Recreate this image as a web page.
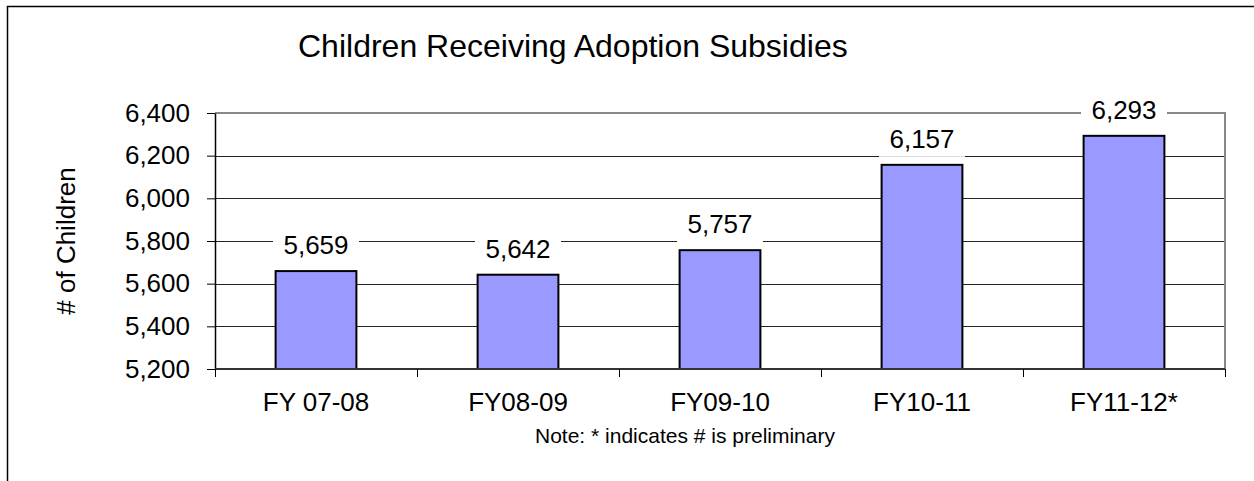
<!DOCTYPE html>
<html>
<head>
<meta charset="utf-8">
<script src="https://cdn.jsdelivr.net/npm/d3@7"></script>
<style>
  body { margin: 0; background: #fff; }
  text { font-family: 'Liberation Sans', Arial, sans-serif; fill: #000; }
</style>
</head>
<body>
<div id="chart"></div>
<script>
let years = ['FY 07-08', 'FY08-09', 'FY09-10', 'FY10-11', 'FY11-12*']
let children = [5659, 5642, 5757, 6157, 6293]
let yTicks = [5200, 5400, 5600, 5800, 6000, 6200, 6400]

let margin = { top: 113, left: 215, right: 29, bottom: 112 }
let width = 1254 - margin.left - margin.right
let height = 481 - margin.top - margin.bottom

let svg = d3
  .select('#chart')
  .append('svg')
  .attr('width', 1254)
  .attr('height', 481)

// outer chart border (runs off the right and bottom)
svg
  .append('rect')
  .attr('x', 7.5)
  .attr('y', 6.5)
  .attr('width', 1300)
  .attr('height', 500)
  .attr('fill', 'none')
  .attr('stroke', '#000')
  .attr('stroke-width', 1.5)

svg
  .append('text')
  .attr('x', 298)
  .attr('y', 57)
  .attr('font-size', 32)
  .text('Children Receiving Adoption Subsidies')

let g = svg
  .append('g')
  .attr('transform', `translate(${margin.left}, ${margin.top})`)

let x = d3
  .scaleBand()
  .domain(years)
  .range([0, width])
  .paddingInner(0.6)
  .paddingOuter(0.3)

let y = d3
  .scaleLinear()
  .domain([5200, 6400])
  .range([height, 0])

// gridlines
g.append('g')
  .selectAll('line')
  .data(yTicks.slice(1, -1))
  .enter()
  .append('line')
  .attr('x1', 0)
  .attr('x2', width)
  .attr('y1', d => Math.round(y(d)) + 0.5)
  .attr('y2', d => Math.round(y(d)) + 0.5)
  .attr('stroke', '#222')
  .attr('stroke-width', 1)

// plot border top & right (gray)
g.append('path')
  .attr('d', `M0,${y(6400)} H${width} V${height}`)
  .attr('fill', 'none')
  .attr('stroke', '#888')
  .attr('stroke-width', 2)

// bars
g.append('g')
  .selectAll('rect')
  .data(children)
  .enter()
  .append('rect')
  .attr('x', (d, i) => x(years[i]))
  .attr('y', d => y(d))
  .attr('width', x.bandwidth())
  .attr('height', d => height - y(d))
  .attr('fill', '#9999ff')
  .attr('stroke', '#000')
  .attr('stroke-width', 2)

// y axis
let yAxis = g
  .append('g')
  .call(
    d3
      .axisLeft(y)
      .tickValues(yTicks)
      .tickSize(8)
      .tickSizeOuter(0)
      .tickPadding(17)
      .tickFormat(d3.format(','))
  )
yAxis.select('.domain').attr('stroke', '#000').attr('stroke-width', 1.5)
yAxis.selectAll('.tick line').attr('stroke', '#000')
yAxis
  .selectAll('text')
  .attr('font-size', 26)
  .attr('font-family', "'Liberation Sans', Arial, sans-serif")

// x axis with ticks between categories
let xAxis = g.append('g').attr('transform', `translate(0, ${height})`)
xAxis
  .append('line')
  .attr('x1', 0)
  .attr('x2', width)
  .attr('stroke', '#333')
  .attr('stroke-width', 2)
xAxis
  .selectAll('.xtick')
  .data(d3.range(years.length + 1))
  .enter()
  .append('line')
  .attr('x1', i => Math.round(i * x.step()) + 0.5)
  .attr('x2', i => Math.round(i * x.step()) + 0.5)
  .attr('y1', 0)
  .attr('y2', 8)
  .attr('stroke', '#000')
xAxis
  .selectAll('.xlabel')
  .data(years)
  .enter()
  .append('text')
  .attr('x', d => x(d) + x.bandwidth() / 2)
  .attr('y', 42)
  .attr('text-anchor', 'middle')
  .attr('font-size', 26)
  .text(d => d)

// data labels on white boxes
let labels = g
  .append('g')
  .selectAll('g')
  .data(children)
  .enter()
  .append('g')
  .attr('transform', (d, i) => `translate(${x(years[i]) + x.bandwidth() / 2}, ${y(d) - 17})`)

labels
  .append('rect')
  .attr('x', -43)
  .attr('y', -23)
  .attr('width', 86)
  .attr('height', 32)
  .attr('fill', '#fff')

labels
  .append('text')
  .attr('text-anchor', 'middle')
  .attr('font-size', 26)
  .text(d => d3.format(',')(d))

// axis title
svg
  .append('text')
  .attr('transform', `translate(75, ${margin.top + height / 2}) rotate(-90)`)
  .attr('text-anchor', 'middle')
  .attr('font-size', 26)
  .text('# of Children')

svg
  .append('text')
  .attr('x', 685)
  .attr('y', 443)
  .attr('text-anchor', 'middle')
  .attr('font-size', 21)
  .text('Note: * indicates # is preliminary')
</script>
</body>
</html>
